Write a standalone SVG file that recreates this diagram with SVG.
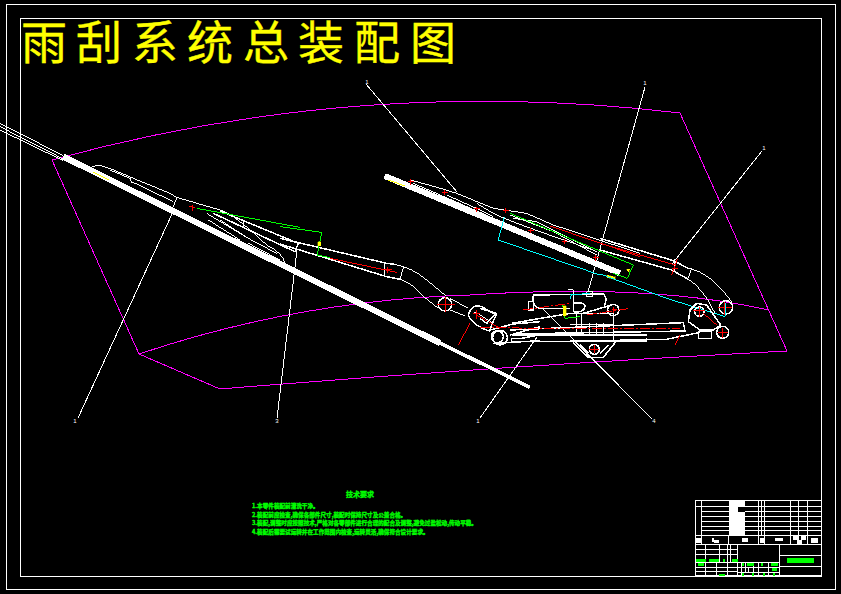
<svg xmlns="http://www.w3.org/2000/svg" width="841" height="594" viewBox="0 0 841 594" shape-rendering="crispEdges">
<style>
.w{fill:none;stroke:#fff;stroke-width:1}
.z{fill:none;stroke:#fff;stroke-width:3}
.zt{fill:none;stroke:#fff;stroke-width:4.5}
.zk{fill:none;stroke:#fff;stroke-width:18}
.r{fill:none;stroke:#f00;stroke-width:3}
.rd{fill:none;stroke:#f00;stroke-width:3;stroke-dasharray:30 6 6 6}
.g{fill:none;stroke:#0f0;stroke-width:3}
.c{fill:none;stroke:#0ff;stroke-width:3}
.y{fill:#ff0;stroke:#ff0}
.m{fill:none;stroke:#f0f;stroke-width:1}
.l{fill:none;stroke:#fff;stroke-width:1}
.lab{font:6px "Liberation Sans",sans-serif;fill:#fff;text-anchor:middle}
.title{font:400 46px "Noto Sans CJK SC",sans-serif;fill:#ff0;stroke:#ff0;stroke-width:.4}
.tech{font:700 5.6px "Noto Sans CJK SC",sans-serif;fill:#0f0;stroke:#0f0;stroke-width:.35}
.b{fill:#fff}.gb{fill:#0f0}
</style>
<rect width="841" height="594" fill="#000"/>
<g id="frame"><rect x="6.5" y="4.5" width="829" height="585" class="w"/><rect x="20.5" y="18.5" width="801" height="558" class="w"/></g>
<text id="title" class="title" y="59" x="21 76 132 187 243 298 354 410">雨刮系统总装配图</text>
<g id="windshield">
<path class="m" d="M52 160Q360 75 680 113L787 351Q500 366 220 389L139 354L52 160M139 354Q300 300 470 295Q650 283 768 310"/>
</g>
<g id="connectors">
<path class="l" d="M366 84L457 192M645 87L588 292M762 151L672 264M172 214L78 418M297 250L277 418M537 337L480 418M542 308L652 419"/>
</g>
<g id="labels">
<text class="lab" x="367" y="84">1</text><text class="lab" x="645" y="85">1</text><text class="lab" x="764" y="150">1</text><text class="lab" x="75" y="423">1</text><text class="lab" x="277" y="423">3</text><text class="lab" x="478" y="423">1</text><text class="lab" x="654" y="423">4</text>
</g>
<g id="left-wiper" transform="translate(0 110) scale(.33333)">
<path class="z" d="M0 40L190 137M0 50L190 147M0 60L190 152"/>
<path class="zk" d="M190 140L1320 699"/>
<path fill="none" stroke="#fff" stroke-width="11" d="M1320 699L1590 832"/>
<path class="z" d="M270 175Q280 165 305 168Q320 170 400 205L510 250L530 262L660 300Q700 310 800 405Q850 430 855 460"/>
<path class="z" d="M330 180L390 205L395 220M395 215L520 275M530 265L520 290M620 310L745 385M625 330L720 390M745 385L830 430M745 400L840 450"/>
<path class="zt" d="M660 303L895 400L885 425L640 310"/>
<path class="z" d="M730 335V350M660 330L745 385"/>
<path fill="none" stroke="#ff0" stroke-width="3" d="M280 187L328 210"/>
<path class="r" d="M568 290L586 292M578 284V303"/>
<path class="g" d="M590 295L900 352"/>
</g>
<g id="left-arm" transform="translate(280 220) scale(.33333)">
<path class="zt" d="M0 55L320 130L345 133M0 72L320 170L360 178"/>
<path class="z" d="M315 130V168M370 142L360 178M345 133Q400 145 440 180L498 228M360 178Q405 195 425 225L475 265"/>
<path class="g" d="M0 20L125 37L112 105L150 113"/>
<path class="y" d="M113 66h9v12h-9z"/>
<path class="r" d="M150 115L350 157M310 150H335M322 142V160"/>
<circle class="zt" cx="495" cy="253" r="20"/><path class="r" d="M470 255H525M497 230V275"/>
<path class="z" d="M510 235L565 265M510 270L555 288"/>
<path class="zt" d="M648 285L605 260Q575 250 565 285Q570 305 607 325L628 333Z"/>
<path class="z" d="M577 283Q585 270 600 285L640 310"/>
<path class="r" d="M590 285L660 325M570 310L535 375M580 280H600M590 270V297"/>
<path class="zt" d="M630 330L700 312L780 305M690 345L780 320M640 370L780 362"/>
<circle class="zt" cx="652" cy="350" r="18"/>
</g>
<g id="right-wiper" transform="translate(380 160) scale(.33333)">
<path class="zk" d="M14 48L720 340"/>
<path class="z" d="M90 60Q150 75 230 100L340 145L440 160L520 195L780 280M100 70L330 170M200 105L300 150L340 170M400 175L470 185L650 275M390 165L520 215L650 285M290 130L340 160Q400 190 640 270"/>
<path class="r" d="M85 65H102M93 58V75M185 97H205M195 90V105M282 146H300M290 140V155M368 153H388M378 145V160M445 211H462M453 204V220M545 245H562M553 238V252M640 293H657M648 286V302"/>
<path class="g" d="M390 160L760 315L742 355L700 340"/>
<path class="r" d="M510 198L780 290"/>
<path fill="none" stroke="#ff0" stroke-width="3" d="M25 60L75 78"/>
<path class="y" d="M680 345l27 6-3 7-24-6zM740 328h10l-4 9z"/>
<path class="c" d="M373 170L355 240L660 345"/>
</g>
<g id="right-arm" transform="translate(600 220) scale(.33333)">
<path class="zt" d="M0 55L220 122L265 145M0 90L215 150L265 178"/>
<path class="z" d="M225 118V155M275 145L263 178M265 145Q330 155 395 245M265 178Q310 205 345 280"/>
<path class="r" d="M0 70L225 135M232 118L215 165M215 145H235"/>
<circle class="zt" cx="378" cy="262" r="20"/><path class="r" d="M355 262H395M375 245V285"/>
<path class="c" d="M0 162L200 235L375 290L378 250"/>
</g>
<g id="motor-linkage" transform="translate(480 270) scale(.33333)">
<path class="zt" d="M95 160L270 130M90 180L610 158L615 183L100 192M95 195H175L125 205H95V215H500V205M175 195H500M210 215L560 208L660 187"/>
<path class="zt" d="M160 75L370 72Q385 85 372 110M160 75Q155 115 185 115H270M145 95H160V120H145Z"/>
<path class="z" d="M265 60H280V125M270 130H400V210M270 165H400M290 130V195M305 130V195M330 160V195M350 160V195M370 160V195"/>
<path class="zt" d="M280 100Q315 95 315 110Q310 130 280 125M310 130L395 105"/>
<circle class="zt" cx="400" cy="120" r="17"/>
<path class="z" d="M320 65H338V80H320Z"/>
<path class="zt" d="M280 218L325 262L370 262L410 212M300 225L325 250M385 225L360 250"/>
<circle class="zt" cx="343" cy="238" r="15"/>
<circle class="zt" cx="60" cy="203" r="22"/>
<path class="r" d="M328 238H358M343 225V250"/>
<path class="rd" d="M0 172H70L140 175H600M130 120L270 100M320 135L450 115"/>
<path class="r" d="M600 195L585 225M395 120H410M400 110V128"/>
<path class="g" d="M248 105L255 145L300 140"/>
<path class="y" d="M250 107h9v30h-9z"/>
<path class="c" d="M270 75L330 70M270 88L275 72"/>
<path class="zt" d="M630 120L650 100L680 105L722 165L700 180H660L625 155L630 120M655 185H695V205H655Z"/>
<circle class="zt" cx="658" cy="125" r="14"/>
<circle class="zt" cx="728" cy="187" r="18"/>
<path class="r" d="M640 122H675M658 110V140M715 187H745M728 175V205M670 130L710 165"/>
<path class="zt" d="M0 115L48 130L20 160L0 145"/>
</g>
<g id="tech-notes">
<text x="360" y="497" text-anchor="middle" class="tech" style="font-size:7px">技术要求</text>
<text x="252" y="508" class="tech">1.本零件装配前清洗干净。</text>
<text x="252" y="517" class="tech">2.装配前应检查,确保各部件尺寸,装配时保持尺寸及公差合格。</text>
<text x="252" y="525" class="tech">3.装配,调整时应按照技术,严格对各零部件进行合理的配合及调整,避免过盈松动,传动平稳。</text>
<text x="252" y="534" class="tech">4.装配后需要试运转并在工作范围内检查,运转灵活,确保符合设计要求。</text>
</g>
<g id="title-block" transform="translate(690 495) scale(.33333)">
<path class="b" d="M117 18H165V35H143V50H165V122H117Z"/>
<path class="z" d="M16 18H393M16 35H393M36 50H117M165 50H393M36 65H117M165 65H393M36 80H117M165 80H393M36 95H117M165 95H393M36 108H117M165 108H393M16 122H393M16 150H393M16 243H393M16 18V243M35 18V150M207 18V150M215 18V122M225 18V150M303 18V150M325 18V122M352 18V150M117 122V150M143 150V243M268 150V243M16 165H143M16 180H143M16 203H268M16 217H143M143 217H268M16 230H143M143 232H268M48 150V243M80 203V243M90 150V203M112 150V243M122 150V203M155 203V243M167 203V232M175 217V232M190 203V243M205 203V243M235 203V243M268 182H393M268 215H393"/>
<path class="b" d="M66 128h6v6h15v10h-15v-4h-6zM155 130h18v12h-18zM210 128h15v15h-15zM18 128h15v15h-15zM256 130h22v8h-22zM310 124h16v10h-16zM332 124h16v10h-16zM322 136h14v14h-14zM362 130h22v14h-22z"/>
<path class="gb" d="M18 192h30v8h-30zM58 192h28v8h-28zM98 192h8v8h-8zM125 192h18v8h-18zM25 205h18v7h-18zM156 205h7v8h-7zM170 205h22v8h-22zM213 205h7v8h-7zM243 205h22v8h-22zM246 219h16v8h-16zM156 234h6v9h-6zM187 234h6v9h-6zM220 234h6v9h-6zM250 234h6v9h-6zM87 236h18v7h-18zM291 190h81v15h-81z"/>
</g>
</svg>
